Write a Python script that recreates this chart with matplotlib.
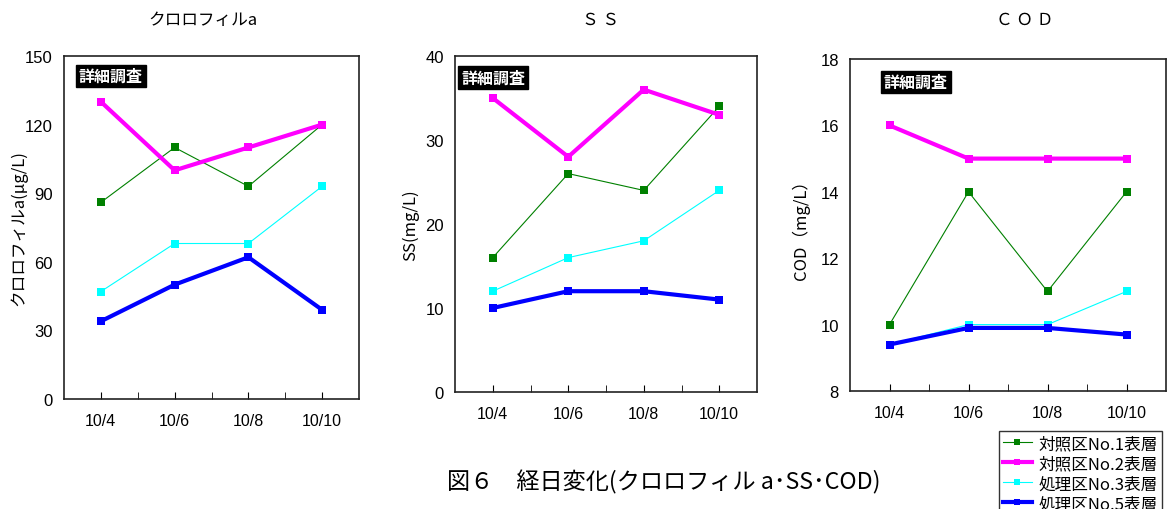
import matplotlib
matplotlib.use("Agg")
import matplotlib.pyplot as plt

plt.rcParams['font.family'] = ['Liberation Sans', 'Noto Sans CJK JP', 'DejaVu Sans']

# データ
dates = ['10/4', '10/6', '10/8', '10/10']
series_names = ['対照区No.1表層', '対照区No.2表層', '処理区No.3表層', '処理区No.5表層']

chl_no1 = [86, 110, 93, 120]
chl_no2 = [130, 100, 110, 120]
chl_no3 = [47, 68, 68, 93]
chl_no5 = [34, 50, 62, 39]

ss_no1 = [16, 26, 24, 34]
ss_no2 = [35, 28, 36, 33]
ss_no3 = [12, 16, 18, 24]
ss_no5 = [10, 12, 12, 11]

cod_no1 = [10, 14, 11, 14]
cod_no2 = [16, 15, 15, 15]
cod_no3 = [9.4, 10, 10, 11]
cod_no5 = [9.4, 9.9, 9.9, 9.7]

colors = ['#008000', '#ff00ff', '#00ffff', '#0000ff']
widths = [0.8, 3.0, 0.8, 3.0]

fig = plt.figure(figsize=(11.67, 5.10), dpi=100)
W, H = 1167, 510

def px_axes(l, t, r, b):
    return fig.add_axes([l / W, 1 - b / H, (r - l) / W, (b - t) / H])

panels = [
    dict(box=(64, 57, 359, 400), data=[chl_no1, chl_no2, chl_no3, chl_no5],
         ylim=(0, 150), yticks=[0, 30, 60, 90, 120, 150], title='クロロフィルa',
         title_x=203, ylabel='クロロフィルa(μg/L)', ylabel_x=19, tag=(0.05, 0.965)),
    dict(box=(455, 57, 757, 393), data=[ss_no1, ss_no2, ss_no3, ss_no5],
         ylim=(0, 40), yticks=[0, 10, 20, 30, 40], title='Ｓ Ｓ',
         title_x=600, ylabel='SS(mg/L)', ylabel_x=411, tag=(0.02, 0.96)),
    dict(box=(850, 60, 1166, 392), data=[cod_no1, cod_no2, cod_no3, cod_no5],
         ylim=(8, 18), yticks=[8, 10, 12, 14, 16, 18], title='Ｃ Ｏ Ｄ',
         title_x=1025, ylabel='COD（mg/L）', ylabel_x=801, tag=(0.107, 0.955)),
]

x = list(range(len(dates)))
handles = []
for p in panels:
    ax = px_axes(*p['box'])
    for i, vals in enumerate(p['data']):
        h, = ax.plot(x, vals, color=colors[i], lw=widths[i], marker='s',
                     markersize=6, markeredgewidth=0)
        if p is panels[0]:
            handles.append(h)
    ax.set_xlim(-0.5, 3.5)
    ax.set_ylim(*p['ylim'])
    ax.set_yticks(p['yticks'])
    ax.set_xticks(x)
    ax.set_xticks([0.5, 1.5, 2.5], minor=True)
    ax.set_xticklabels(dates, fontsize=11.5)
    ax.tick_params(axis='x', which='both', direction='in', length=5, pad=10)
    ax.tick_params(axis='y', length=0, labelsize=12, pad=8)
    for s in ax.spines.values():
        s.set_linewidth(1.2)
        s.set_color('#222222')
    ax.text(p['tag'][0], p['tag'][1], '詳細調査', transform=ax.transAxes,
            ha='left', va='top', color='white', fontsize=11.5, fontweight='bold',
            family=['Noto Sans CJK JP'],
            bbox=dict(boxstyle='square,pad=0.2', fc='black', ec='black'))
    fig.text(p['title_x'] / W, 1 - 20 / H, p['title'], ha='center', va='center',
             fontsize=12, family=['Noto Sans CJK JP', 'DejaVu Sans'])
    cy = (p['box'][1] + p['box'][3]) / 2
    fig.text(p['ylabel_x'] / W, 1 - cy / H, p['ylabel'], rotation=90,
             ha='center', va='center', fontsize=12,
             family=['Noto Sans CJK JP', 'DejaVu Sans'])

fig.text(447 / W, 1 - 482 / H, '図６　経日変化(クロロフィル a･SS･COD)',
         ha='left', va='center', fontsize=16.7, family=['Noto Sans CJK JP', 'DejaVu Sans'])

leg = fig.legend(handles, series_names, loc='upper left',
                 bbox_to_anchor=(999 / W, 1 - 432 / H),
                 frameon=True, fancybox=False, handlelength=1.7, markerscale=0.8,
                 borderpad=0.25, labelspacing=0.18, handletextpad=0.4,
                 borderaxespad=0,
                 prop={'family': ['Noto Sans CJK JP'], 'size': 12})
leg.get_frame().set_edgecolor('black')
leg.get_frame().set_linewidth(1.0)

fig.savefig('out.png', dpi=100)
